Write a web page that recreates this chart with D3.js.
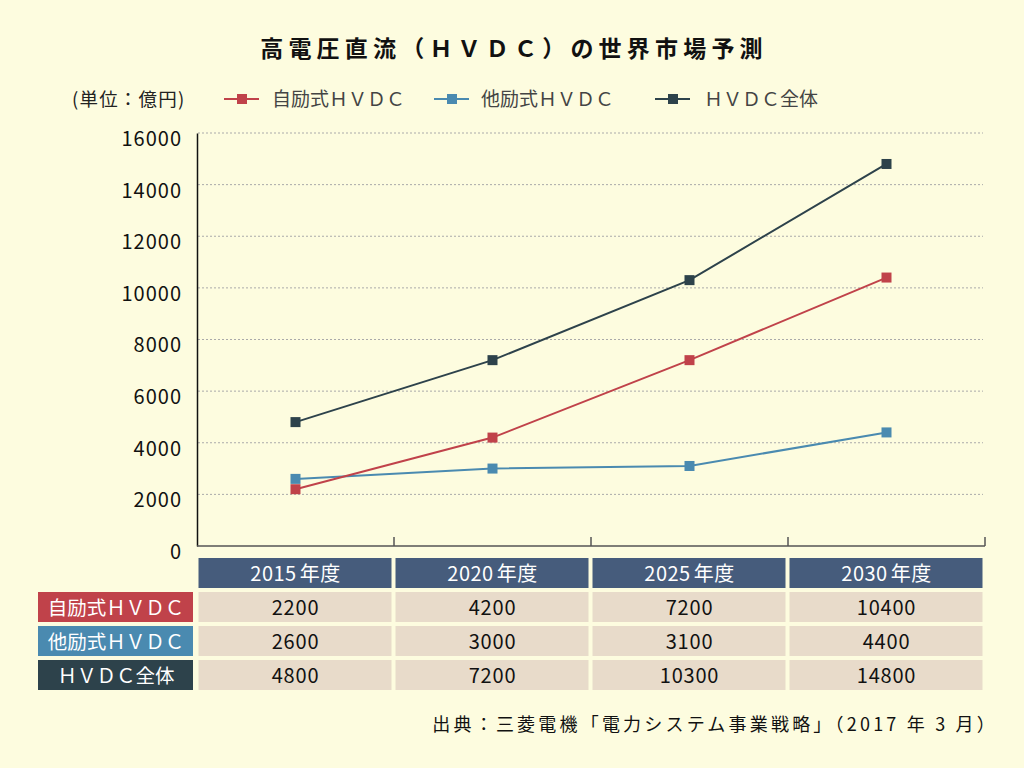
<!DOCTYPE html>
<html><head><meta charset="utf-8">
<script src="https://cdn.jsdelivr.net/npm/d3@7"></script>
<style>
body{margin:0;background:#fdfcdf;}
svg{display:block;font-family:"Noto Sans CJK JP","Noto Sans",sans-serif;}
</style></head>
<body><svg id="c" width="1024" height="768"></svg>
<script>
const categories = ["2015年度","2020年度","2025年度","2030年度"];
const seriesNames = ["自励式ＨＶＤＣ","他励式ＨＶＤＣ","ＨＶＤＣ全体"];
const selfExcited = [2200,4200,7200,10400];
const lineCommutated = [2600,3000,3100,4400];
const total = [4800,7200,10300,14800];
const yTicks = [0,2000,4000,6000,8000,10000,12000,14000,16000];
const colors = ["#c0424a","#4a8ab0","#2d424b"];
const seriesValues = [selfExcited, lineCommutated, total];

const svg = d3.select("#c");
svg.append("rect").attr("width",1024).attr("height",768).attr("fill","#fdfcdf");

const x = d3.scaleBand().domain(categories).range([197,985]);
const y = d3.scaleLinear().domain([0,16000]).range([546,133]);

// title
svg.append("text").attr("x",514).attr("y",57).attr("text-anchor","middle")
  .attr("font-size",23).attr("font-weight","bold").attr("letter-spacing",5.2).attr("fill","#111")
  .text("高電圧直流（ＨＶＤＣ）の世界市場予測");

// unit
svg.append("text").attr("x",72).attr("y",106).attr("font-size",18.5).attr("letter-spacing",1.2).attr("fill","#222").text("(単位：億円)");

// legend
const legX = [224,434,655];
const legTX = [272,481,704];
seriesNames.forEach((n,i)=>{
  const g = svg.append("g");
  g.append("line").attr("x1",legX[i]).attr("x2",legX[i]+35).attr("y1",99).attr("y2",99)
    .attr("stroke",colors[i]).attr("stroke-width",2);
  g.append("rect").attr("x",legX[i]+13).attr("y",94).attr("width",10).attr("height",10).attr("fill",colors[i]);
  g.append("text").attr("x",legTX[i]).attr("y",106).attr("font-size",19).attr("fill","#444").text(n);
});

// gridlines
svg.append("g").selectAll("line").data(yTicks.filter(d=>d>0)).join("line")
  .attr("x1",198).attr("x2",983).attr("y1",d=>y(d)).attr("y2",d=>y(d))
  .attr("stroke","#aaa").attr("stroke-width",1).attr("stroke-dasharray","2,2");

// y axis
const yAxis = svg.append("g").attr("transform","translate(197,0)")
  .call(d3.axisLeft(y).tickValues(yTicks).tickSize(0).tickPadding(15).tickFormat(d3.format("d")));
yAxis.select(".domain").attr("stroke","#111").attr("stroke-width",1.5);
yAxis.selectAll("text").attr("font-size",20).attr("fill","#111").attr("letter-spacing",1)
  .attr("dy","0.62em").attr("font-family","'Noto Sans CJK JP',sans-serif");

// x axis line & ticks
svg.append("line").attr("x1",197).attr("x2",985).attr("y1",546).attr("y2",546).attr("stroke","#555").attr("stroke-width",1.5);
svg.append("g").selectAll("line").data(categories).join("line")
  .attr("x1",d=>x(d)+x.bandwidth()).attr("x2",d=>x(d)+x.bandwidth())
  .attr("y1",537).attr("y2",546).attr("stroke","#555").attr("stroke-width",1.5);

// lines and markers
const line = d3.line().x((d,i)=>x(categories[i])+x.bandwidth()/2).y(d=>y(d));
[1,0,2].forEach(si=>{
  svg.append("path").datum(seriesValues[si]).attr("d",line).attr("fill","none")
    .attr("stroke",colors[si]).attr("stroke-width",2);
  svg.append("g").selectAll("rect").data(seriesValues[si]).join("rect")
    .attr("x",(d,i)=>x(categories[i])+x.bandwidth()/2-5).attr("y",d=>y(d)-5)
    .attr("width",10).attr("height",10).attr("fill",colors[si]);
});

// table
const hdrY = 558, rowH = 30, gap = 4;
svg.append("g").selectAll("rect").data(categories).join("rect")
  .attr("x",d=>x(d)+1.5).attr("y",hdrY).attr("width",x.bandwidth()-4).attr("height",rowH).attr("fill","#465c7c");
svg.append("g").selectAll("text").data(categories).join("text")
  .attr("x",d=>x(d)+x.bandwidth()/2).attr("y",hdrY+23).attr("text-anchor","middle")
  .attr("font-size",20).attr("fill","#fff").attr("letter-spacing",0.5)
  .text(d=>d.replace("年度"," 年度")).attr("word-spacing",-2);

seriesNames.forEach((n,si)=>{
  const ry = hdrY + (rowH+gap)*(si+1);
  svg.append("rect").attr("x",38).attr("y",ry).attr("width",155).attr("height",rowH).attr("fill",colors[si]);
  svg.append("text").attr("x",116).attr("y",ry+23).attr("text-anchor","middle")
    .attr("font-size",19.5).attr("fill","#fff").text(n);
  svg.append("g").selectAll("rect").data(seriesValues[si]).join("rect")
    .attr("x",(d,i)=>x(categories[i])+1.5).attr("y",ry).attr("width",x.bandwidth()-4).attr("height",rowH).attr("fill","#e8dbca");
  svg.append("g").selectAll("text").data(seriesValues[si]).join("text")
    .attr("x",(d,i)=>x(categories[i])+x.bandwidth()/2).attr("y",ry+23).attr("text-anchor","middle")
    .attr("font-size",20).attr("fill","#111").attr("letter-spacing",0.8).text(d=>d);
});

// source
svg.append("text").attr("x",998).attr("y",731).attr("text-anchor","end")
  .attr("font-size",18).attr("letter-spacing",3.2).attr("fill","#111")
  .text("出典：三菱電機「電力システム事業戦略」（2017 年 3 月）");
</script></body></html>
